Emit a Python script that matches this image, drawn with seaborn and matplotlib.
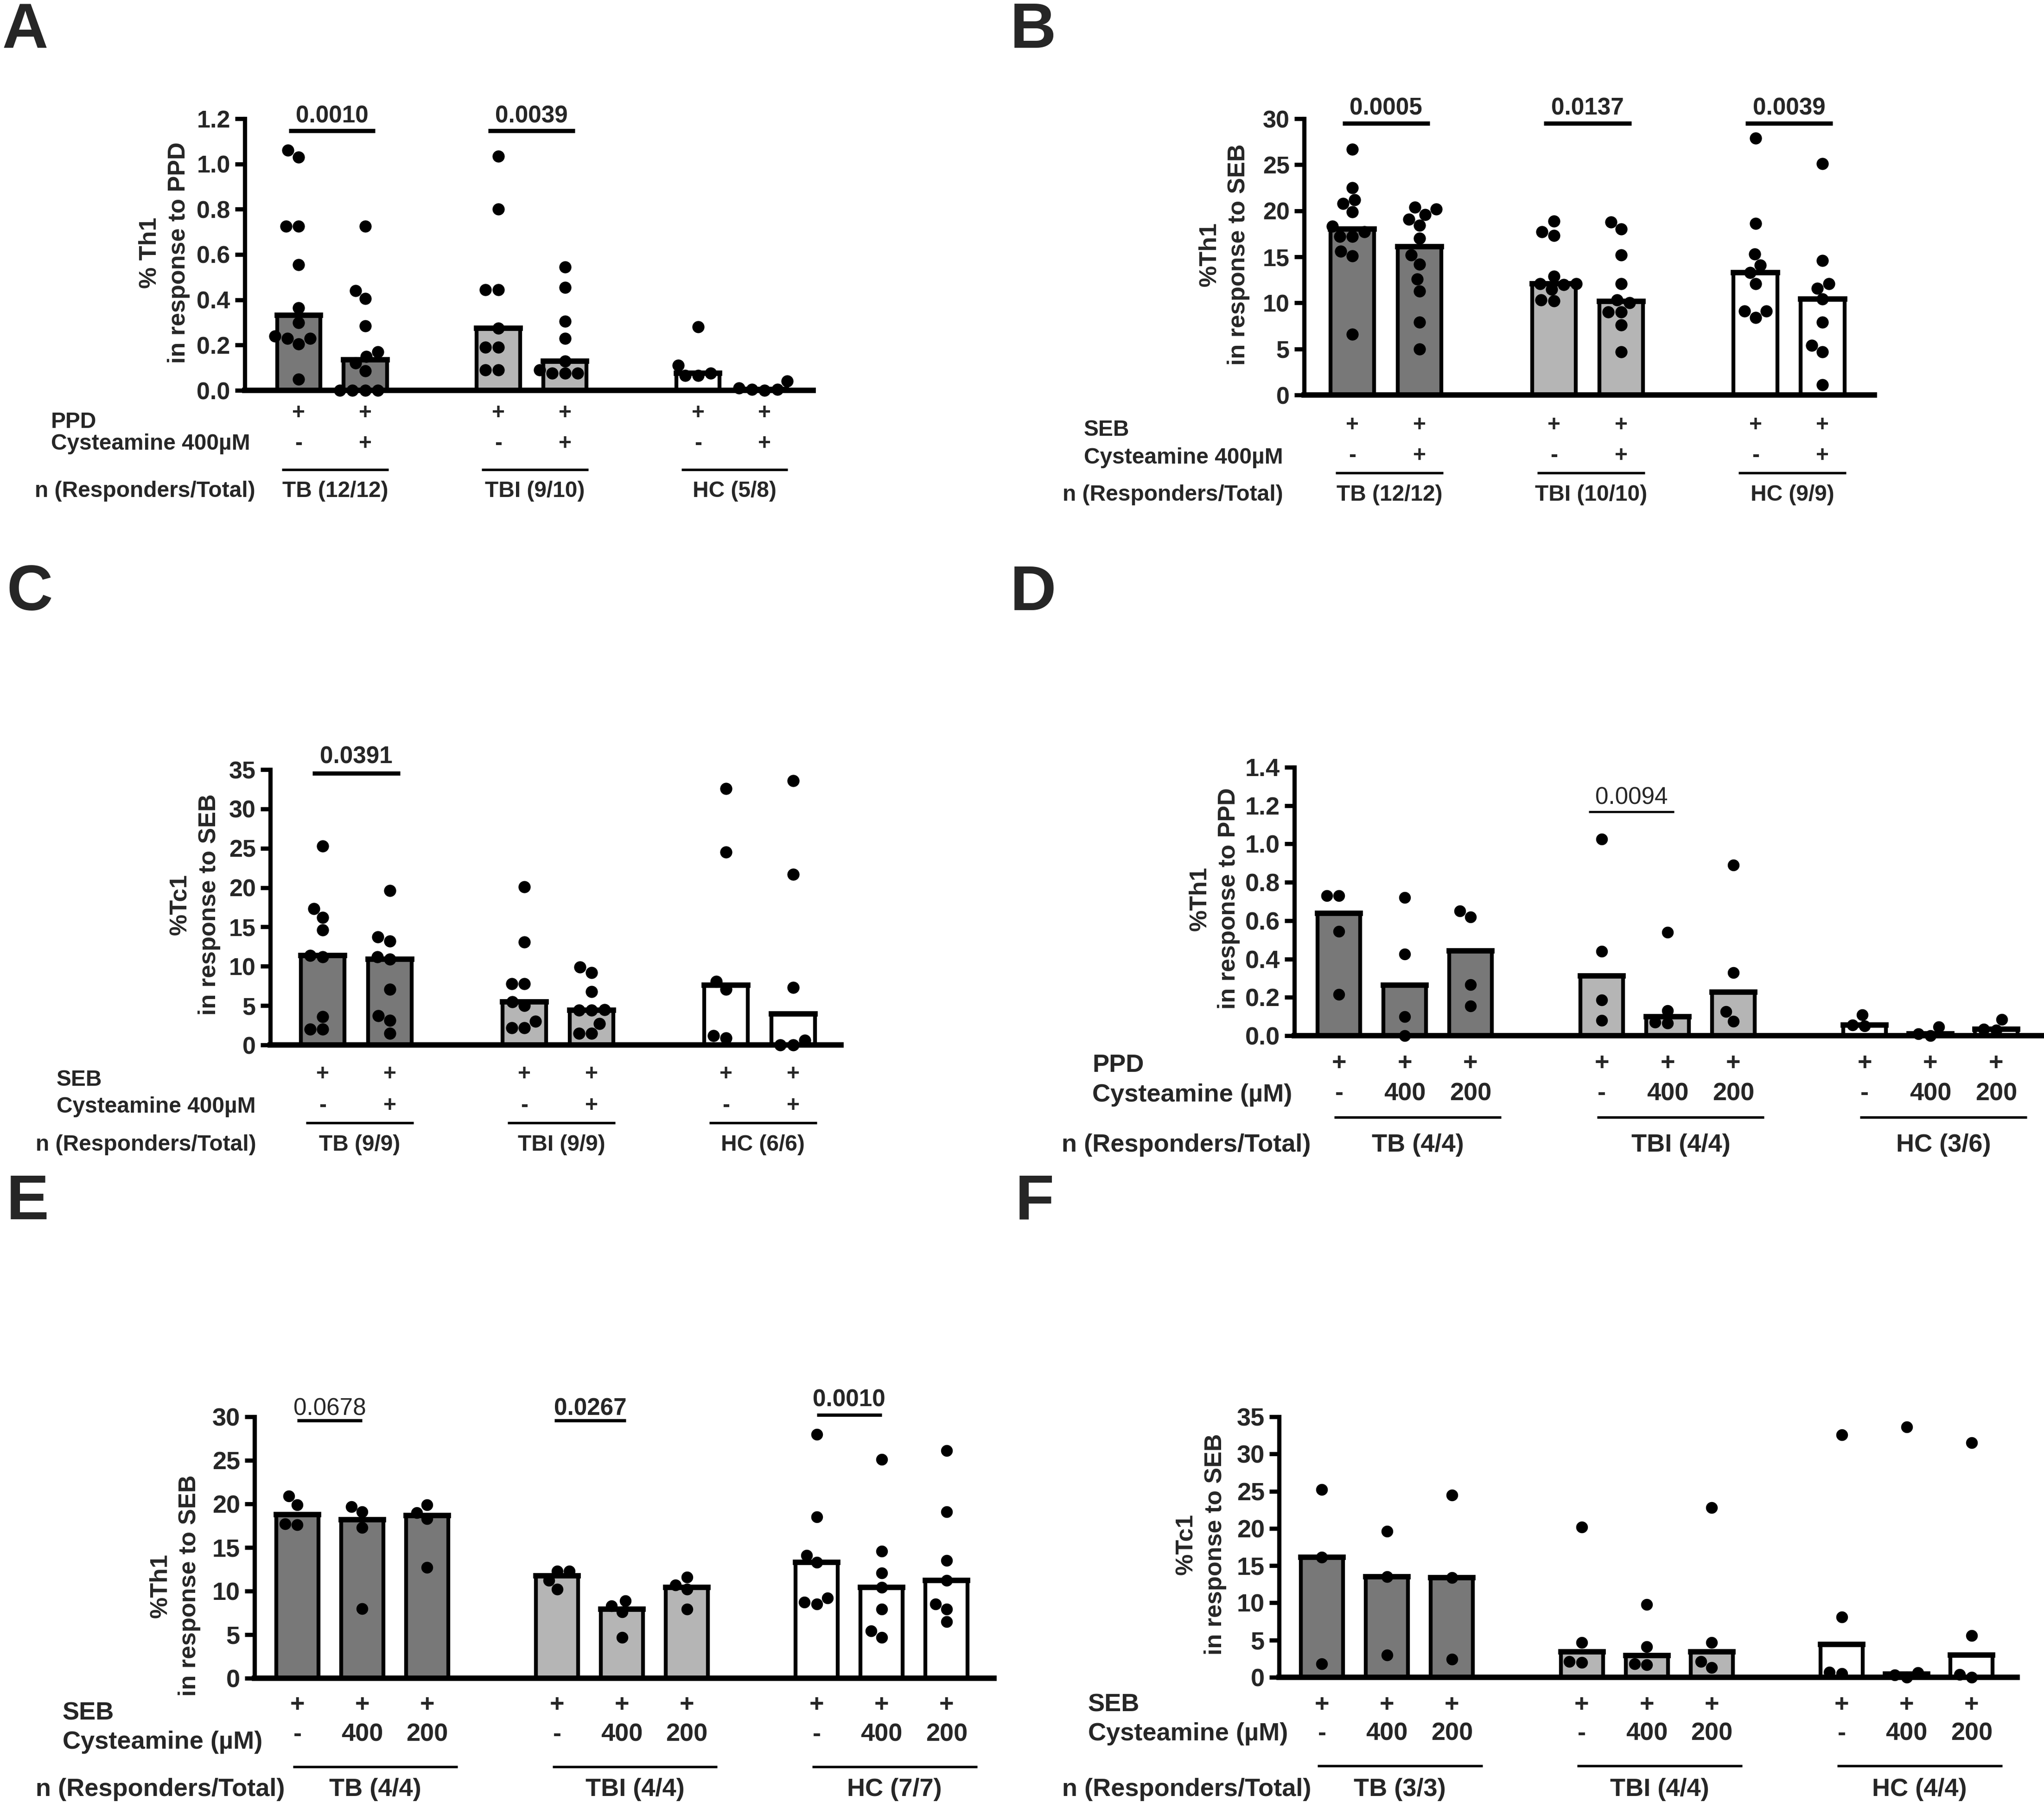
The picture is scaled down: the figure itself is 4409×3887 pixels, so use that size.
import numpy as np
import pandas as pd
import matplotlib
matplotlib.use('Agg')
import matplotlib.pyplot as plt
import matplotlib.transforms as mtrans
import seaborn as sns

W, H, DPI = 4409, 3887, 300

sns.set_theme(style='white')
plt.rcParams['font.family'] = ['Liberation Sans', 'DejaVu Sans']
plt.rcParams['font.weight'] = 'bold'

groups = ['TB', 'TBI', 'HC']
shades = {'TB': '#787878', 'TBI': '#b5b5b5', 'HC': '#ffffff'}

# ---- data, bars = medians ----
# A: %Th1 in response to PPD, cysteamine 400uM
a_tb_0 = [1.06, 1.03, 0.725, 0.725, 0.555, 0.365, 0.30, 0.24, 0.23, 0.23, 0.205, 0.05]
a_tb_400 = [0.725, 0.44, 0.405, 0.285, 0.17, 0.15, 0.12, 0.085, 0.0, 0.0, 0.0, 0.0]
a_tbi_0 = [1.035, 0.80, 0.445, 0.445, 0.275, 0.19, 0.19, 0.09, 0.09]
a_tbi_400 = [0.545, 0.455, 0.305, 0.23, 0.13, 0.09, 0.075, 0.075, 0.075]
a_hc_0 = [0.28, 0.11, 0.075, 0.065, 0.065]
a_hc_400 = [0.04, 0.01, 0.005, 0.005, 0.0]

# B: %Th1 in response to SEB
b_tb_0 = [26.7, 22.5, 21.2, 20.8, 19.9, 18.3, 17.7, 17.2, 17.2, 15.6, 15.1, 6.6]
b_tb_400 = [20.4, 20.2, 19.6, 19.1, 18.4, 17.0, 15.2, 14.2, 12.6, 11.3, 7.9, 5.0]
b_tbi_0 = [18.9, 17.7, 17.3, 12.9, 12.1, 12.1, 12.0, 11.5, 10.3, 10.2]
b_tbi_400 = [18.8, 18.0, 15.2, 12.1, 10.3, 10.0, 9.0, 9.0, 7.6, 4.7]
b_hc_0 = [27.9, 18.6, 15.3, 14.1, 13.3, 12.1, 9.1, 9.1, 8.4]
b_hc_400 = [25.1, 14.6, 12.1, 11.6, 10.4, 7.9, 5.4, 4.7, 1.1]

# C: %Tc1 in response to SEB
c_tb_0 = [25.3, 17.3, 16.2, 14.6, 11.4, 11.2, 3.6, 2.0, 2.0]
c_tb_400 = [19.6, 13.7, 13.2, 11.2, 10.9, 7.1, 3.7, 3.1, 1.5]
c_tbi_0 = [20.1, 13.1, 7.8, 7.8, 5.5, 5.0, 3.0, 2.2, 2.2]
c_tbi_400 = [9.9, 9.2, 6.8, 4.5, 4.4, 4.4, 2.7, 1.5, 1.5]
c_hc_0 = [32.6, 24.5, 8.1, 7.1, 1.2, 0.9]
c_hc_400 = [33.6, 21.7, 7.3, 0.6, 0.0, 0.0]

# D: %Th1 PPD, cysteamine -, 400, 200
d_tb_0 = [0.73, 0.73, 0.545, 0.215]
d_tb_400 = [0.72, 0.425, 0.10, 0.0]
d_tb_200 = [0.65, 0.62, 0.265, 0.155]
d_tbi_0 = [1.025, 0.44, 0.185, 0.08]
d_tbi_400 = [0.54, 0.13, 0.07, 0.065]
d_tbi_200 = [0.89, 0.33, 0.125, 0.075]
d_hc_0 = [0.11, 0.055, 0.05]
d_hc_400 = [0.045, 0.01, 0.0]
d_hc_200 = [0.085, 0.035, 0.03]

# E: %Th1 SEB
e_tb_0 = [20.9, 19.9, 17.7, 17.6]
e_tb_400 = [19.7, 19.1, 17.3, 8.0]
e_tb_200 = [19.9, 19.0, 18.3, 12.7]
e_tbi_0 = [12.3, 12.3, 11.2, 10.2]
e_tbi_400 = [8.9, 8.3, 7.6, 4.7]
e_tbi_200 = [11.6, 10.7, 10.2, 7.9]
e_hc_0 = [28.0, 18.5, 14.1, 13.3, 9.2, 8.7, 8.5]
e_hc_400 = [25.1, 14.6, 12.1, 10.4, 7.9, 5.4, 4.7]
e_hc_200 = [26.1, 19.1, 13.5, 11.2, 8.5, 7.9, 6.5]

# F: %Tc1 SEB
f_tb_0 = [25.2, 16.1, 1.8]
f_tb_400 = [19.6, 13.5, 3.0]
f_tb_200 = [24.5, 13.4, 2.4]
f_tbi_0 = [20.2, 4.7, 2.1, 2.0]
f_tbi_400 = [9.8, 4.1, 1.8, 1.7]
f_tbi_200 = [22.8, 4.7, 2.1, 1.3]
f_hc_0 = [32.6, 8.1, 0.7, 0.5]
f_hc_400 = [33.6, 0.6, 0.3, 0.0]
f_hc_200 = [31.5, 5.6, 0.4, 0.0]

two_conds = ['-', '+']
three_conds = ['-', '400', '200']

a_n = ['TB (12/12)', 'TBI (9/10)', 'HC (5/8)']
b_n = ['TB (12/12)', 'TBI (10/10)', 'HC (9/9)']
c_n = ['TB (9/9)', 'TBI (9/9)', 'HC (6/6)']
d_n = ['TB (4/4)', 'TBI (4/4)', 'HC (3/6)']
e_n = ['TB (4/4)', 'TBI (4/4)', 'HC (7/7)']
f_n = ['TB (3/3)', 'TBI (4/4)', 'HC (4/4)']

fig = plt.figure(figsize=(W / DPI, H / DPI), dpi=DPI)
fig.patch.set_facecolor('white')


def fx(x):
    return x / W


def fy(y):
    return 1 - y / H


def panel(letter, letter_xy, series, conds, ylab, ylab_xy, box, ymax, step, fmt,
          xlim, stim, cyst, n_labels, rows, lab_x, sigs, fs, tfs, msize):
    x0, x1, y0, yt = box
    ax = fig.add_axes([fx(x0), fy(y0), fx(x1 - x0), (y0 - yt) / H])
    k = len(conds)
    order, recs, pos = [], [], {}
    for gi, g in enumerate(groups):
        for ci, c in enumerate(conds):
            key = g + '|' + c
            order.append(key)
            pos[key] = gi * (k + 1) + ci
            for v in series[gi][ci]:
                recs.append({'bar': key, 'group': g, 'value': v})
        if gi < 2:
            order.append('gap%d' % gi)
    df = pd.DataFrame(recs)
    pal = {g + '|' + c: shades[g] for g in groups for c in conds}
    sns.barplot(data=df, x='bar', y='value', hue='bar', order=order, palette=pal,
                estimator='median', errorbar=None, width=0.65, legend=False,
                edgecolor='black', linewidth=2.0, ax=ax)
    # GraphPad draws the median (top) edge of each bar a bit heavier
    for p in ax.patches:
        h = p.get_height()
        if np.isfinite(h) and p.get_width() > 0:
            ax.plot([p.get_x(), p.get_x() + p.get_width()], [h, h], color='black',
                    lw=2.8, solid_capstyle='projecting', zorder=3, clip_on=False)
    sns.swarmplot(data=df, x='bar', y='value', order=order, color='black',
                  size=msize, ax=ax, clip_on=False, zorder=4)
    ax.set_xlim(*xlim)
    ax.set_ylim(0, ymax)
    ticks = np.arange(0, ymax + step / 2, step)
    ax.set_yticks(ticks)
    ax.set_yticklabels([fmt % t for t in ticks], fontsize=fs)
    ax.set_xticks([])
    ax.set_xlabel('')
    ax.set_ylabel('')
    ax.set_facecolor('none')
    sns.despine(ax=ax)
    ax.spines['left'].set_linewidth(2.2)
    ax.spines['bottom'].set_linewidth(2.8)
    for s in ['left', 'bottom']:
        ax.spines[s].set_color('black')
        ax.spines[s].set_zorder(5)
    ax.tick_params(axis='y', left=True, length=5, width=2.2, pad=2.5, color='black')

    fig.text(fx(letter_xy[0]), fy(letter_xy[1]), letter, fontsize=33,
             fontweight='bold', ha='left', va='baseline')
    fig.text(fx(ylab_xy[0]), fy(ylab_xy[1]), ylab, fontsize=12.5,
             fontweight='bold', rotation=90, ha='center', va='center',
             multialignment='center', linespacing=1.35)

    tr = mtrans.blended_transform_factory(ax.transData, fig.transFigure)
    m1, m2, l1, l2, ul, nrow = rows
    fig.text(fx(lab_x[0]), fy(l1), stim, fontsize=tfs, ha='left', va='center')
    fig.text(fx(lab_x[0]), fy(l2), cyst, fontsize=tfs, ha='left', va='center')
    fig.text(fx(lab_x[1]), fy(nrow), 'n (Responders/Total)', fontsize=tfs,
             ha='left', va='center')
    for gi, g in enumerate(groups):
        ps = [pos[g + '|' + c] for c in conds]
        for c, p in zip(conds, ps):
            ax.text(p, fy(m1), '+', transform=tr, fontsize=tfs, ha='center', va='center')
            mark = c if k == 3 else ('-' if c == '-' else '+')
            ax.text(p, fy(m2), mark, transform=tr, fontsize=tfs, ha='center', va='center')
        mid = (ps[0] + ps[-1]) / 2
        if k == 2:
            cen, half = mid + 0.05, 0.8
        else:
            cen, half = mid + 0.2, 1.27
        ax.plot([cen - half, cen + half], [fy(ul), fy(ul)], transform=tr,
                color='black', lw=1.3, clip_on=False, solid_capstyle='butt')
        ax.text(cen, fy(nrow), n_labels[gi], transform=tr, fontsize=tfs,
                ha='center', va='center')

    for g, txt, yl, ytx, lo, hi, wt, lw in sigs:
        p0 = pos[g + '|' + conds[0]]
        p1 = pos[g + '|' + conds[1]]
        ax.plot([p0 + lo, p1 + hi], [yl, yl], color='black', lw=lw, clip_on=False,
                solid_capstyle='butt')
        ax.text((p0 + lo + p1 + hi) / 2, ytx, txt, fontsize=12.3, fontweight=wt,
                ha='center', va='center', clip_on=False)
    return ax


panel('A', (5, 103),
      [[a_tb_0, a_tb_400], [a_tbi_0, a_tbi_400], [a_hc_0, a_hc_400]], two_conds,
      '% Th1\nin response to PPD', (354, 545), (528, 1754, 842, 256), 1.2, 0.2, '%.1f',
      (-0.81, 7.73), 'PPD', 'Cysteamine 400µM', a_n,
      (892, 958, 910, 958, 1013, 1060), (110, 75),
      [('TB', '0.0010', 1.147, 1.211, -0.15, 0.15, 'bold', 2.2),
       ('TBI', '0.0039', 1.147, 1.211, -0.15, 0.15, 'bold', 2.2)],
      12.5, 11.5, 6.3)

panel('B', (2179, 103),
      [[b_tb_0, b_tb_400], [b_tbi_0, b_tbi_400], [b_hc_0, b_hc_400]], two_conds,
      '%Th1\nin response to SEB', (2640, 549), (2813, 4043, 852, 256), 30, 5, '%d',
      (-0.72, 7.77), 'SEB', 'Cysteamine 400µM', b_n,
      (918, 983, 927, 987, 1020, 1068), (2338, 2292),
      [('TB', '0.0005', 29.5, 31.1, -0.15, 0.15, 'bold', 2.2),
       ('TBI', '0.0137', 29.5, 31.1, -0.15, 0.15, 'bold', 2.2),
       ('HC', '0.0039', 29.5, 31.1, -0.15, 0.15, 'bold', 2.2)],
      12.5, 11.5, 6.3)

panel('C', (14, 1316),
      [[c_tb_0, c_tb_400], [c_tbi_0, c_tbi_400], [c_hc_0, c_hc_400]], two_conds,
      '%Tc1\nin response to SEB', (420, 1951), (583, 1814, 2254, 1660), 35, 5, '%d',
      (-0.78, 7.71), 'SEB', 'Cysteamine 400µM', c_n,
      (2317, 2385, 2330, 2387, 2422, 2470), (122, 77),
      [('TB', '0.0391', 34.5, 36.6, -0.15, 0.15, 'bold', 2.2)],
      12.5, 11.5, 6.3)

panel('D', (2179, 1316),
      [[d_tb_0, d_tb_400, d_tb_200], [d_tbi_0, d_tbi_400, d_tbi_200],
       [d_hc_0, d_hc_400, d_hc_200]], three_conds,
      '%Th1\nin response to PPD', (2619, 1938), (2792, 4405, 2234, 1655), 1.4, 0.2, '%.1f',
      (-0.68, 10.7), 'PPD', 'Cysteamine (µM)', d_n,
      (2294, 2359, 2298, 2362, 2410, 2470), (2356, 2290),
      [('TBI', '0.0094', 1.168, 1.24, -0.2, 0.1, 'normal', 1.1)],
      13, 13, 6.1)

panel('E', (14, 2630),
      [[e_tb_0, e_tb_400, e_tb_200], [e_tbi_0, e_tbi_400, e_tbi_200],
       [e_hc_0, e_hc_400, e_hc_200]], three_conds,
      '%Th1\nin response to SEB', (377, 3420), (549, 2144, 3620, 3056), 30, 5, '%d',
      (-0.66, 10.73), 'SEB', 'Cysteamine (µM)', e_n,
      (3678, 3742, 3696, 3758, 3811, 3860), (135, 77),
      [('TB', '0.0678', 29.6, 30.9, 0.0, 0.0, 'normal', 1.7),
       ('TBI', '0.0267', 29.6, 30.9, -0.04, 0.06, 'bold', 1.7),
       ('HC', '0.0010', 30.2, 31.9, 0.0, 0.0, 'bold', 1.7)],
      13, 13, 6.1)

panel('F', (2190, 2630),
      [[f_tb_0, f_tb_400, f_tb_200], [f_tbi_0, f_tbi_400, f_tbi_200],
       [f_hc_0, f_hc_400, f_hc_200]], three_conds,
      '%Tc1\nin response to SEB', (2590, 3331), (2759, 4351, 3618, 3056), 35, 5, '%d',
      (-0.66, 10.7), 'SEB', 'Cysteamine (µM)', f_n,
      (3678, 3740, 3678, 3740, 3809, 3860), (2347, 2291),
      [], 13, 13, 6.1)

fig.savefig('out.png', dpi=DPI, facecolor='white')
